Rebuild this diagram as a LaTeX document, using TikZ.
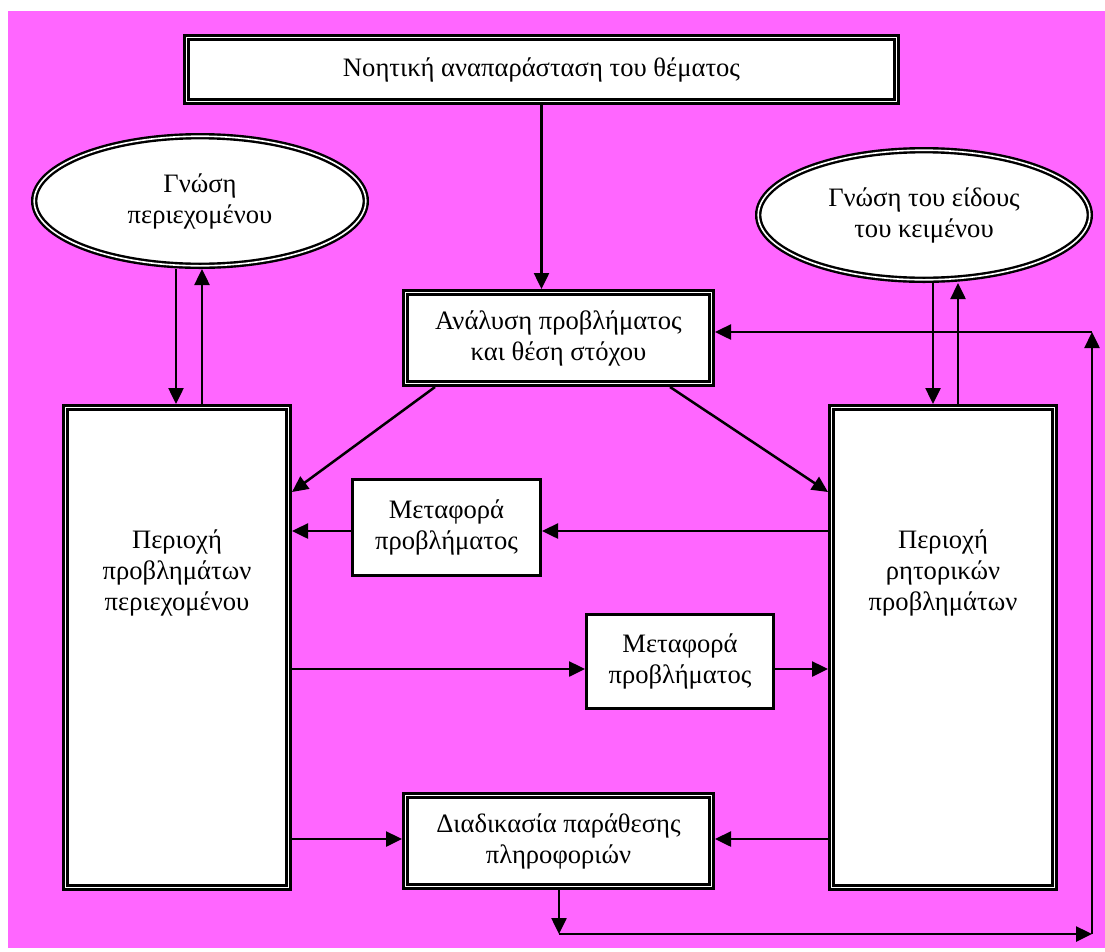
\documentclass[tikz,border=0pt]{standalone}
\usepackage{fontspec}
\setmainfont{Liberation Serif}
\usetikzlibrary{shapes.geometric,arrows.meta,calc}
\definecolor{bgmag}{RGB}{255,102,255}
\begin{document}
\begin{tikzpicture}[x=1pt,y=-1pt,
  txt/.style={font=\fontsize{26.6}{31}\selectfont, align=center, inner sep=0pt},
  dblbox/.style={txt, rectangle, draw=black, line width=2.6pt, double=white, double distance=1.8pt, fill=white, outer sep=3.5pt},
  dblell/.style={txt, ellipse, draw=black, line width=2.4pt, double=white, double distance=1.6pt, fill=white, outer sep=3.2pt},
  smbox/.style={txt, rectangle, draw=black, line width=2.6pt, fill=white, outer sep=1.3pt},
  arr/.style={line width=2.5pt, -{Triangle[length=16pt,width=15pt]}},
  ln/.style={line width=2.5pt}]
\useasboundingbox (0,0) rectangle (1105,951);
\fill[white] (0,0) rectangle (1105,951);
\fill[bgmag] (8,11) rectangle (1105,948);

\node[dblbox, minimum width=710pt, minimum height=64pt] (top) at (541.5,69.5) {Νοητική αναπαράσταση του θέματος};
\node[dblell, minimum width=331.6pt, minimum height=129.6pt] (ellL) at (200,201) {Γνώση\\περιεχομένου};
\node[dblell, minimum width=331.6pt, minimum height=129.6pt] (ellR) at (924,215) {Γνώση του είδους\\του κειμένου};
\node[dblbox, minimum width=306pt, minimum height=91pt] (ana) at (558.5,338) {Ανάλυση προβλήματος\\και θέση στόχου};
\node[dblbox, minimum width=223pt, minimum height=480pt] (boxL) at (177,647.5) {};
\node[dblbox, minimum width=223pt, minimum height=480pt] (boxR) at (943,647.5) {};
\node[txt] (boxLt) at (177,573) {Περιοχή\\προβλημάτων\\περιεχομένου};
\node[txt] (boxRt) at (943,573) {Περιοχή\\ρητορικών\\προβλημάτων};
\node[smbox, minimum width=188.4pt, minimum height=96.4pt] (m1) at (446.5,527.5) {Μεταφορά\\προβλήματος};
\node[smbox, minimum width=187.4pt, minimum height=94.4pt] (m2) at (680,661.5) {Μεταφορά\\προβλήματος};
\node[dblbox, minimum width=306pt, minimum height=91pt] (diad) at (558.5,841) {Διαδικασία παράθεσης\\πληροφοριών};

% coordinates
\coordinate (l1) at (176,0);
\coordinate (l2) at (202,0);
\coordinate (r1) at (933,0);
\coordinate (r2) at (958,0);
\coordinate (y1) at (0,531);
\coordinate (y2) at (0,669);
\coordinate (y3) at (0,839);
\coordinate (dl) at (435,0);
\coordinate (dr) at (670,0);
\coordinate (yd) at (0,492);
\coordinate (c1) at (559,934);
\coordinate (c2) at (1092,934);
\coordinate (c3) at (1092,332);

\draw[arr] (top.south) -- (top.south |- ana.north);
\draw[arr] (l1 |- ellL.south) -- (l1 |- boxL.north);
\draw[arr] (l2 |- boxL.north) -- (l2 |- ellL.south);
\draw[arr] (r1 |- ellR.south) -- (r1 |- boxR.north);
\draw[arr] (r2 |- boxR.north) -- (r2 |- ellR.south);
\draw[arr] (dl |- ana.south) -- (boxL.east |- yd);
\draw[arr] (dr |- ana.south) -- (boxR.west |- yd);
\draw[arr] (boxR.west |- y1) -- (m1.east |- y1);
\draw[arr] (m1.west |- y1) -- (boxL.east |- y1);
\draw[arr] (boxL.east |- y2) -- (m2.west |- y2);
\draw[arr] (m2.east |- y2) -- (boxR.west |- y2);
\draw[arr] (boxL.east |- y3) -- (diad.west |- y3);
\draw[arr] (boxR.west |- y3) -- (diad.east |- y3);
\draw[arr] (c1 |- diad.south) -- (c1);
\draw[arr] (c1) -- (c2);
\draw[arr] (c2) -- (c3);
\draw[arr] (c3) -- (ana.east |- c3);
\end{tikzpicture}
\end{document}
